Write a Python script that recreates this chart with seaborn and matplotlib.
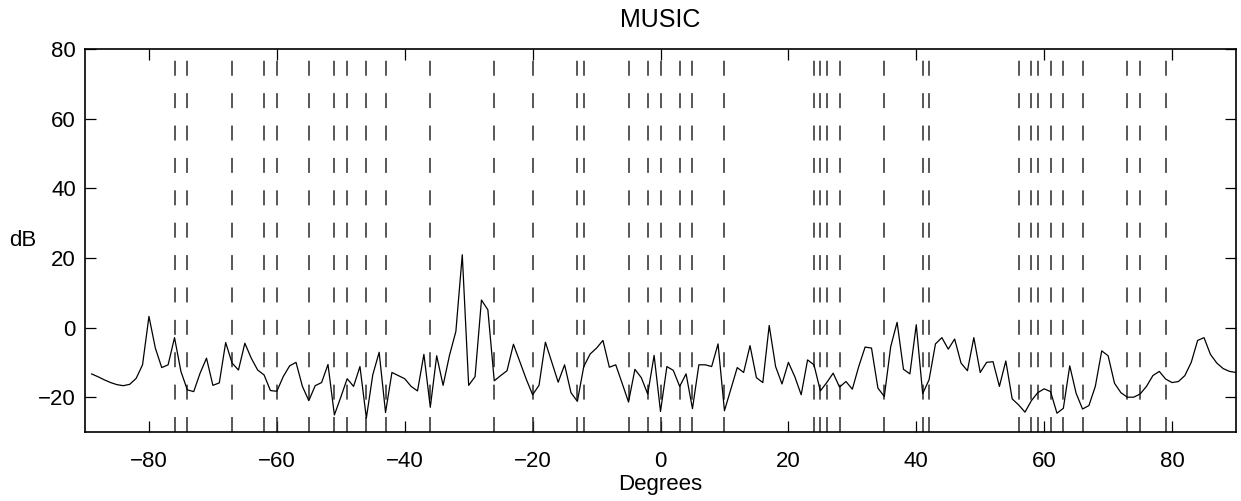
import numpy as np
import pandas as pd
import matplotlib
matplotlib.use("Agg")
import matplotlib.pyplot as plt
import seaborn as sns

# Scan angles (degrees) and MUSIC pseudo-spectrum (dB)
angles = list(range(-89, 91))
spectrum_db = [
    -13.3, -14.1, -15.0, -15.8, -16.4, -16.7, -16.3, -14.6, -10.7, 3.2,       # -89 .. -80
    -5.9, -11.5, -10.7, -2.9, -12.6, -17.9, -18.4, -13.1, -8.8, -16.6,        # -79 .. -70
    -15.9, -4.3, -10.2, -12.2, -4.5, -8.8, -12.2, -13.6, -18.1, -18.3,        # -69 .. -60
    -14.1, -11.0, -10.0, -16.9, -21.0, -16.7, -15.8, -10.6, -25.1, -20.0,     # -59 .. -50
    -14.7, -16.9, -11.2, -26.0, -13.6, -7.1, -24.4, -12.9, -13.8, -14.7,      # -49 .. -40
    -16.9, -18.2, -7.7, -22.9, -8.1, -16.6, -8.0, -1.1, 20.9, -16.6,          # -39 .. -30
    -14.1, 7.9, 5.1, -15.3, -13.8, -12.4, -4.8, -9.8, -14.8, -19.3,           # -29 .. -20
    -16.6, -4.2, -10.0, -15.7, -10.7, -18.7, -21.2, -11.2, -7.6, -5.9,        # -19 .. -10
    -3.7, -11.4, -10.7, -16.0, -21.4, -12.0, -14.4, -19.1, -8.0, -24.1,       # -9 .. 0
    -11.2, -12.3, -16.9, -13.3, -23.3, -10.7, -10.7, -11.2, -4.7, -23.9,      # 1 .. 10
    -17.7, -11.5, -12.9, -5.2, -14.4, -15.8, 0.6, -11.2, -16.2, -10.0,        # 11 .. 20
    -14.1, -19.3, -9.3, -10.7, -18.2, -15.8, -13.1, -17.1, -15.5, -17.7,      # 21 .. 30
    -11.2, -5.6, -5.9, -17.4, -19.8, -5.5, 1.5, -12.0, -13.3, 0.8,            # 31 .. 40
    -19.0, -15.0, -4.7, -2.9, -6.2, -3.3, -10.2, -12.4, -2.9, -12.9,          # 41 .. 50
    -10.0, -9.8, -16.9, -9.6, -20.5, -22.2, -24.3, -21.0, -18.7, -17.6,       # 51 .. 60
    -18.4, -24.6, -23.2, -11.0, -18.9, -23.4, -22.4, -16.9, -6.7, -8.1,       # 61 .. 70
    -16.0, -18.7, -20.0, -20.0, -19.1, -16.9, -13.8, -12.6, -14.8, -15.8,     # 71 .. 80
    -15.5, -13.8, -10.0, -3.7, -2.9, -7.7, -10.2, -11.8, -12.6, -12.9,        # 81 .. 90
]

# True source directions (degrees), drawn as dashed markers
source_angles = [
    -76, -74, -67, -62, -60, -55, -51, -49, -46, -43, -36, -26, -20, -13, -12,
    -5, -2, 0, 3, 5, 10, 24, 25, 26, 28, 35, 41, 42,
    56, 58, 59, 61, 63, 66, 73, 75, 79,
]

x_ticks = [-80, -60, -40, -20, 0, 20, 40, 60, 80]
y_ticks = [-20, 0, 20, 40, 60, 80]

sns.set_theme(style="white")
plt.rcParams["font.family"] = ["Liberation Sans", "DejaVu Sans"]
plt.rcParams["axes.unicode_minus"] = True

fig = plt.figure(figsize=(12.41, 5.01), dpi=100)
ax = fig.add_axes([85 / 1241, 69 / 501, 1151 / 1241, 383 / 501])

df = pd.DataFrame({"angle": angles, "db": spectrum_db})

for a in source_angles:
    ax.axvline(a, color="#2a2a2a", linewidth=1.1, dashes=(9.8, 11.4), zorder=1)

sns.lineplot(data=df, x="angle", y="db", color="black", linewidth=0.9, ax=ax, zorder=3)

ax.set_xlim(-90, 90)
ax.set_ylim(-30, 80)
ax.set_xticks(x_ticks)
ax.set_yticks(y_ticks)

ax.tick_params(axis="both", which="major", direction="in", length=8, width=0.9,
               colors="black", labelsize=16,
               top=True, right=True, bottom=True, left=True)
ax.tick_params(axis="x", pad=14)
ax.tick_params(axis="y", pad=6.5)
for s in ax.spines.values():
    s.set_visible(True)
    s.set_color("black")
    s.set_linewidth(1.2)

ax.set_title("MUSIC", fontsize=18, pad=16, color="black")
ax.set_xlabel("Degrees", fontsize=16, color="black", labelpad=1)
ax.set_ylabel("dB", fontsize=16, color="black", rotation=0, ha="center", va="center")
ax.yaxis.set_label_coords(-0.054, 0.5)

fig.savefig("out.png", dpi=100, facecolor="white")
